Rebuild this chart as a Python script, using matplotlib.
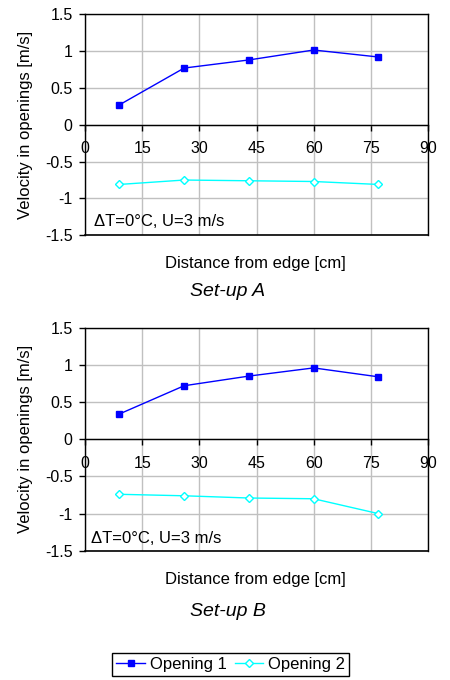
import matplotlib
matplotlib.use("Agg")
import matplotlib.pyplot as plt

plt.rcParams['font.family'] = ['Liberation Sans', 'DejaVu Sans']

distance = [9, 26, 43, 60, 77]
x_ticks = [0, 15, 30, 45, 60, 75, 90]
y_ticks = [-1.5, -1, -0.5, 0, 0.5, 1, 1.5]
y_tick_labels = ['-1.5', '-1', '-0.5', '0', '0.5', '1', '1.5']

a_opening1 = [0.27, 0.77, 0.88, 1.015, 0.92]
a_opening2 = [-0.81, -0.75, -0.76, -0.77, -0.81]
b_opening1 = [0.34, 0.72, 0.85, 0.96, 0.84]
b_opening2 = [-0.74, -0.76, -0.79, -0.80, -1.0]

note = "\u0394T=0\u00b0C, U=3 m/s"

fig = plt.figure(figsize=(4.5, 6.8), dpi=100)


def draw_panel(rect, op1, op2, note_pos):
    ax = fig.add_axes(rect)
    l1, = ax.plot(distance, op1, color='#0000ff', lw=1, marker='s', ms=4,
                  label='Opening 1')
    l2, = ax.plot(distance, op2, color='#00ffff', lw=1, marker='D', ms=4,
                  mfc='white', mec='#00ffff', mew=1, label='Opening 2')
    ax.set_xlim(0, 90)
    ax.set_ylim(-1.5, 1.5)
    ax.set_xticks(x_ticks)
    ax.set_yticks(y_ticks)
    ax.set_yticklabels(y_tick_labels)
    ax.grid(True, color='#c0c0c0', lw=1)
    ax.set_axisbelow(True)
    ax.spines['bottom'].set_position(('data', 0))
    ax.axhline(-1.5, color='black', lw=1.2, clip_on=False)
    for s in ['left', 'right', 'top', 'bottom']:
        ax.spines[s].set_linewidth(1.0)
        ax.spines[s].set_color('black')
    ax.tick_params(axis='both', labelsize=11.5, length=4, width=1, direction='out')
    ax.tick_params(axis='x', pad=8)
    ax.tick_params(axis='y', pad=5)
    ax.set_ylabel("Velocity in openings [m/s]", fontsize=12)
    ax.yaxis.set_label_coords(-0.152, 0.5)
    ax.text(note_pos[0], note_pos[1], note, transform=ax.transAxes,
            fontsize=12, va='center', ha='left')
    return ax, l1, l2


ax1, _, _ = draw_panel([0.189, 0.654, 0.762, 0.325], a_opening1, a_opening2,
                       (0.026, 0.063))
ax2, h1, h2 = draw_panel([0.189, 0.190, 0.762, 0.328], b_opening1, b_opening2,
                         (0.017, 0.054))

fig.text(0.567, 0.613, "Distance from edge [cm]", ha='center', va='center', fontsize=12)
fig.text(0.506, 0.572, "Set-up A", ha='center', va='center', fontsize=14,
         style='italic')
fig.text(0.567, 0.148, "Distance from edge [cm]", ha='center', va='center', fontsize=12)
fig.text(0.506, 0.101, "Set-up B", ha='center', va='center', fontsize=14,
         style='italic')

leg = fig.legend([h1, h2], ['Opening 1', 'Opening 2'], loc='center',
                 bbox_to_anchor=(0.513, 0.023), ncol=2, fontsize=12,
                 fancybox=False, edgecolor='black', framealpha=1,
                 handlelength=1.7, columnspacing=0.5, handletextpad=0.3,
                 borderpad=0.25, borderaxespad=0)
leg.get_frame().set_linewidth(1.0)

fig.savefig("out.png", dpi=100)
